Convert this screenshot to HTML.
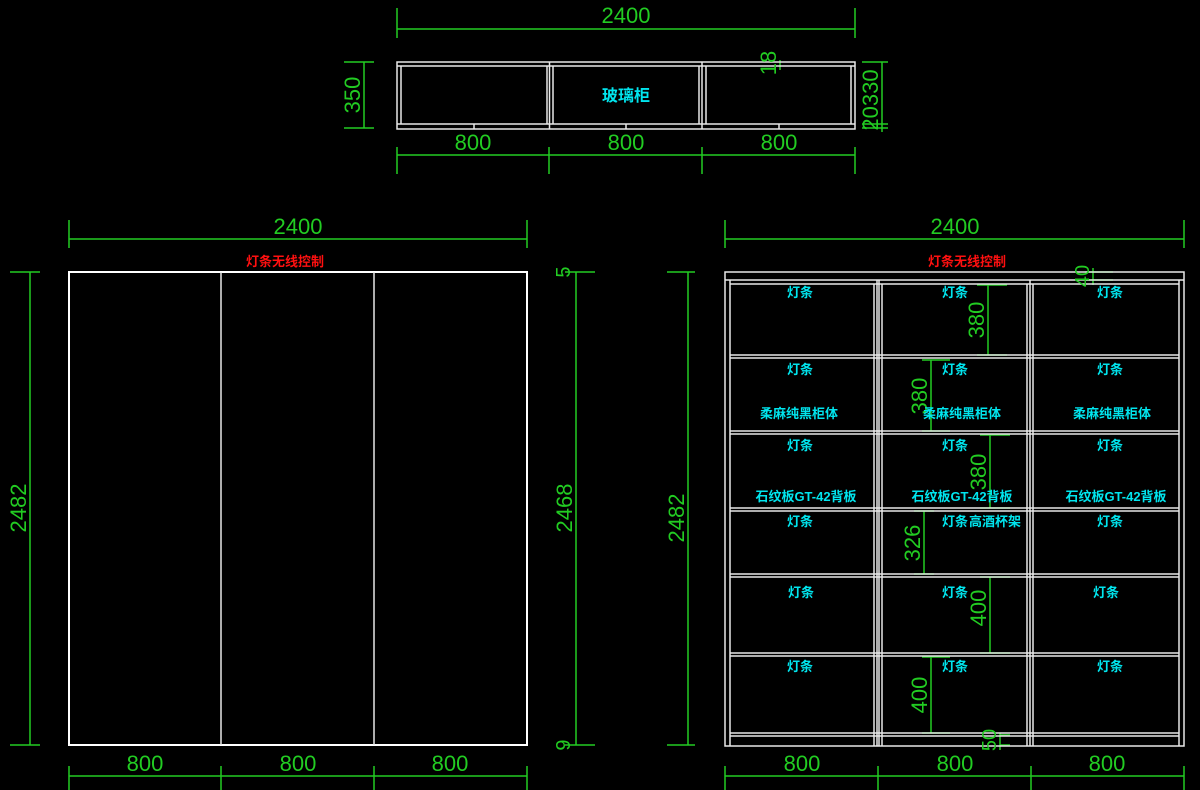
<!DOCTYPE html>
<html><head><meta charset="utf-8"><style>
html,body{margin:0;padding:0;background:#000;width:1200px;height:790px;overflow:hidden}
svg{display:block}
.g{stroke:#22cc22;stroke-width:1.5;fill:none}
.w{stroke:#e8e8e8;stroke-width:1.5;fill:none}
.t{fill:#22cc22;font-family:"Liberation Sans",sans-serif;font-size:22px;text-anchor:middle}
.c{fill:#00e5ee;font-family:"Liberation Sans","Noto Sans CJK SC",sans-serif;font-size:13px;font-weight:bold;text-anchor:middle}
.r{fill:#ff1010;font-family:"Liberation Sans","Noto Sans CJK SC",sans-serif;font-size:13px;font-weight:bold;text-anchor:middle}
</style></head><body>
<svg width="1200" height="790" viewBox="0 0 1200 790">
<!-- TOP VIEW -->
<g class="g">
<line x1="397" y1="29" x2="855" y2="29"/><line x1="397" y1="8" x2="397" y2="38"/><line x1="855" y1="8" x2="855" y2="38"/>
<line x1="364" y1="62" x2="364" y2="128"/><line x1="344" y1="62" x2="374" y2="62"/><line x1="344" y1="128" x2="374" y2="128"/>
<line x1="882" y1="62" x2="882" y2="132"/><line x1="862" y1="62" x2="888" y2="62"/><line x1="862" y1="124" x2="888" y2="124"/><line x1="862" y1="128" x2="888" y2="128"/>
<line x1="780" y1="60" x2="780" y2="70"/>
<line x1="397" y1="155" x2="855" y2="155"/>
<line x1="397" y1="147" x2="397" y2="174"/><line x1="549" y1="147" x2="549" y2="174"/><line x1="702" y1="147" x2="702" y2="174"/><line x1="855" y1="147" x2="855" y2="174"/>
</g>
<g class="w">
<rect x="397" y="62" width="458" height="67"/>
<line x1="397" y1="66" x2="855" y2="66"/><line x1="397" y1="124" x2="855" y2="124"/>
<line x1="401" y1="66" x2="401" y2="124"/><line x1="547" y1="66" x2="547" y2="124"/><line x1="549.5" y1="62" x2="549.5" y2="129"/><line x1="553" y1="66" x2="553" y2="124"/>
<line x1="699" y1="66" x2="699" y2="124"/><line x1="702" y1="62" x2="702" y2="129"/><line x1="706" y1="66" x2="706" y2="124"/><line x1="851" y1="66" x2="851" y2="124"/>
<line x1="474" y1="124" x2="474" y2="129"/><line x1="626" y1="124" x2="626" y2="129"/><line x1="779" y1="124" x2="779" y2="129"/>
</g>
<text class="t" x="626" y="23">2400</text>
<text class="t" x="473" y="150">800</text><text class="t" x="626" y="150">800</text><text class="t" x="779" y="150">800</text>
<text class="t" transform="translate(360,95) rotate(-90)">350</text>
<text class="t" transform="translate(878,100) rotate(-90)">20330</text>
<text class="t" transform="translate(776,63) rotate(-90)">18</text>
<text class="c" x="626" y="101" style="font-size:16px">玻璃柜</text>

<!-- LEFT ELEVATION -->
<g class="g">
<line x1="69" y1="239" x2="527" y2="239"/><line x1="69" y1="220" x2="69" y2="248"/><line x1="527" y1="220" x2="527" y2="248"/>
<line x1="30" y1="272" x2="30" y2="745"/><line x1="10" y1="272" x2="40" y2="272"/><line x1="10" y1="745" x2="40" y2="745"/>
<line x1="576" y1="272" x2="576" y2="745"/><line x1="565" y1="272" x2="595" y2="272"/><line x1="565" y1="745" x2="595" y2="745"/>
<line x1="69" y1="776" x2="527" y2="776"/>
<line x1="69" y1="766" x2="69" y2="790"/><line x1="221" y1="766" x2="221" y2="790"/><line x1="374" y1="766" x2="374" y2="790"/><line x1="527" y1="766" x2="527" y2="790"/>
</g>
<g class="w">
<rect x="69" y="272" width="458" height="473" style="stroke:#fff;stroke-width:2"/>
<line x1="221" y1="272" x2="221" y2="745"/><line x1="374" y1="272" x2="374" y2="745"/>
</g>
<text class="t" x="298" y="234">2400</text>
<text class="r" x="285" y="266">灯条无线控制</text>
<text class="t" transform="translate(26,508) rotate(-90)">2482</text>
<text class="t" transform="translate(572,508) rotate(-90)">2468</text>
<text class="t" transform="translate(570,272) rotate(-90)" style="font-size:20px">5</text>
<text class="t" transform="translate(570,745) rotate(-90)" style="font-size:20px">9</text>
<text class="t" x="145" y="771">800</text><text class="t" x="298" y="771">800</text><text class="t" x="450" y="771">800</text>

<!-- RIGHT ELEVATION -->
<g class="g">
<line x1="725" y1="239" x2="1184" y2="239"/><line x1="725" y1="220" x2="725" y2="248"/><line x1="1184" y1="220" x2="1184" y2="248"/>
<line x1="688" y1="272" x2="688" y2="745"/><line x1="667" y1="272" x2="695" y2="272"/><line x1="667" y1="745" x2="695" y2="745"/>
<line x1="725" y1="776" x2="1184" y2="776"/>
<line x1="725" y1="766" x2="725" y2="790"/><line x1="878" y1="766" x2="878" y2="790"/><line x1="1031" y1="766" x2="1031" y2="790"/><line x1="1184" y1="766" x2="1184" y2="790"/>
<line x1="988" y1="285" x2="988" y2="355"/><line x1="977" y1="285" x2="1007" y2="285"/><line x1="977" y1="355" x2="1007" y2="355"/>
<line x1="931" y1="360" x2="931" y2="431"/><line x1="922" y1="360" x2="950" y2="360"/><line x1="922" y1="431" x2="950" y2="431"/>
<line x1="990" y1="435" x2="990" y2="508"/><line x1="980" y1="435" x2="1010" y2="435"/><line x1="980" y1="508" x2="1010" y2="508"/>
<line x1="924" y1="511" x2="924" y2="574"/><line x1="914" y1="511" x2="934" y2="511"/><line x1="914" y1="574" x2="934" y2="574"/>
<line x1="990" y1="577" x2="990" y2="653"/><line x1="980" y1="577" x2="1010" y2="577"/><line x1="980" y1="653" x2="1010" y2="653"/>
<line x1="931" y1="657" x2="931" y2="733"/><line x1="922" y1="657" x2="950" y2="657"/><line x1="922" y1="733" x2="950" y2="733"/>
<line x1="1000" y1="735" x2="1010" y2="735"/><line x1="1000" y1="745" x2="1010" y2="745"/><line x1="1000" y1="733" x2="1000" y2="750"/>
<line x1="1093" y1="268" x2="1093" y2="285"/><line x1="1085" y1="272" x2="1113" y2="272"/><line x1="1085" y1="280" x2="1113" y2="280"/>
</g>
<g class="w">
<rect x="725" y="272" width="459" height="474"/>
<line x1="725" y1="280" x2="1184" y2="280"/>
<line x1="730" y1="284" x2="1179" y2="284"/>
<line x1="730" y1="280" x2="730" y2="746"/><line x1="1179" y1="280" x2="1179" y2="746"/>
<line x1="874" y1="284" x2="874" y2="746"/><line x1="877" y1="280" x2="877" y2="746"/><line x1="879" y1="280" x2="879" y2="746"/><line x1="882" y1="284" x2="882" y2="746"/>
<line x1="1027" y1="284" x2="1027" y2="746"/><line x1="1030" y1="280" x2="1030" y2="746"/><line x1="1033" y1="284" x2="1033" y2="746"/>
<g>
<line x1="730" y1="355" x2="1179" y2="355"/><line x1="730" y1="358" x2="1179" y2="358"/>
<line x1="730" y1="431" x2="1179" y2="431"/><line x1="730" y1="434" x2="1179" y2="434"/>
<line x1="730" y1="508" x2="1179" y2="508"/><line x1="730" y1="511" x2="1179" y2="511"/>
<line x1="730" y1="574" x2="1179" y2="574"/><line x1="730" y1="577" x2="1179" y2="577"/>
<line x1="730" y1="653" x2="1179" y2="653"/><line x1="730" y1="656" x2="1179" y2="656"/>
<line x1="730" y1="733" x2="1179" y2="733"/><line x1="730" y1="736" x2="1179" y2="736"/>
</g>
</g>
<text class="t" x="955" y="234">2400</text>
<text class="r" x="967" y="266">灯条无线控制</text>
<text class="t" transform="translate(684,518) rotate(-90)">2482</text>
<text class="t" x="802" y="771">800</text><text class="t" x="955" y="771">800</text><text class="t" x="1107" y="771">800</text>
<text class="t" transform="translate(984,320) rotate(-90)">380</text>
<text class="t" transform="translate(927,396) rotate(-90)">380</text>
<text class="t" transform="translate(986,472) rotate(-90)">380</text>
<text class="t" transform="translate(920,543) rotate(-90)">326</text>
<text class="t" transform="translate(986,608) rotate(-90)">400</text>
<text class="t" transform="translate(927,695) rotate(-90)">400</text>
<text class="t" transform="translate(996,740) rotate(-90)" style="font-size:20px">50</text>
<text class="t" transform="translate(1089,276) rotate(-90)" style="font-size:20px">40</text>
<g class="c">
<text x="800" y="297">灯条</text><text x="955" y="297">灯条</text><text x="1110" y="297">灯条</text>
<text x="800" y="374">灯条</text><text x="955" y="374">灯条</text><text x="1110" y="374">灯条</text>
<text x="799" y="418">柔麻纯黑柜体</text><text x="962" y="418">柔麻纯黑柜体</text><text x="1112" y="418">柔麻纯黑柜体</text>
<text x="800" y="450">灯条</text><text x="955" y="450">灯条</text><text x="1110" y="450">灯条</text>
<text x="806" y="501">石纹板GT-42背板</text><text x="962" y="501">石纹板GT-42背板</text><text x="1116" y="501">石纹板GT-42背板</text>
<text x="800" y="526">灯条</text><text x="955" y="526">灯条</text><text x="995" y="526">高酒杯架</text><text x="1110" y="526">灯条</text>
<text x="801" y="597">灯条</text><text x="955" y="597">灯条</text><text x="1106" y="597">灯条</text>
<text x="800" y="671">灯条</text><text x="955" y="671">灯条</text><text x="1110" y="671">灯条</text>
</g>
</svg>
</body></html>
